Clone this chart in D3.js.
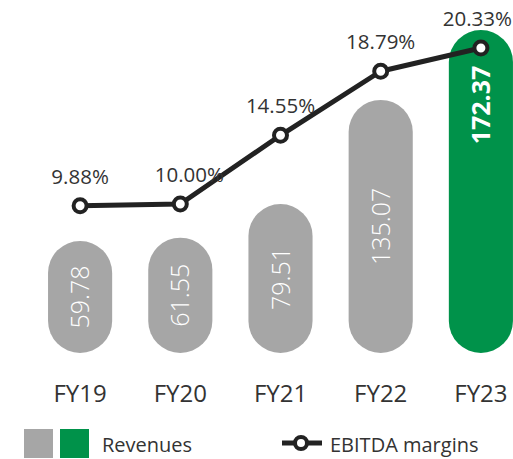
<!DOCTYPE html>
<html><head><meta charset="utf-8">
<script src="https://cdn.jsdelivr.net/npm/d3@7/dist/d3.min.js"></script>
<style>
html,body{margin:0;padding:0;background:#fff;}
svg{display:block;font-family:"Open Sans","Noto Sans",sans-serif;}
</style></head><body>
<svg id="chart" width="513" height="459"></svg>
<script>
const categories = ["FY19","FY20","FY21","FY22","FY23"];
const revenues = [59.78, 61.55, 79.51, 135.07, 172.37];
const ebitdaMargins = [9.88, 10.00, 14.55, 18.79, 20.33];
const marginLabels = ["9.88%","10.00%","14.55%","18.79%","20.33%"];
const revenueLabels = ["59.78","61.55","79.51","135.07","172.37"];
const legendLabels = ["Revenues","EBITDA margins"];

const GRAY = "#a6a6a6", GREEN = "#00924a", DARK = "#222", TEXT = "#333";
const svg = d3.select("#chart");

const x = d3.scaleBand().domain(categories).range([30, 531]).paddingInner(0.36).paddingOuter(0.18);
const yBar = d3.scaleLinear().domain([0, d3.max(revenues)]).range([353, 30]);
const yLine = d3.scaleLinear().domain([0, d3.max(ebitdaMargins)]).range([355, 48]);
const cx = d => x(d) + x.bandwidth() / 2;

const data = categories.map((c, i) => ({c, i, rev: revenues[i], m: ebitdaMargins[i]}));
const last = categories.length - 1;

// bars (pill shapes)
svg.append("g").selectAll("rect").data(data).join("rect")
  .attr("x", d => x(d.c))
  .attr("y", d => yBar(d.rev))
  .attr("width", x.bandwidth())
  .attr("height", d => yBar(0) - yBar(d.rev))
  .attr("rx", x.bandwidth() / 2)
  .attr("fill", d => d.i === last ? GREEN : GRAY);

// bar labels
svg.append("g").selectAll("text").data(data).join("text")
  .attr("transform", d => {
    const yy = d.i === last ? yBar(d.rev) + 75 : (yBar(d.rev) + yBar(0)) / 2;
    return `translate(${cx(d.c) + 9},${yy}) rotate(-90)`;
  })
  .attr("text-anchor", "middle")
  .attr("fill", "#fff")
  .attr("font-size", 25)
  .attr("font-weight", d => d.i === last ? 700 : 300)
  .text(d => revenueLabels[d.i]);

// axis labels
const xAxis = d3.axisBottom(x).tickSize(0).tickPadding(0);
const ax = svg.append("g").attr("transform", "translate(0,380)").call(xAxis);
ax.select(".domain").remove();
ax.selectAll("text").attr("font-size", 24).attr("fill", TEXT)
  .attr("font-family", "'Open Sans','Noto Sans',sans-serif").attr("dy", "0.92em");

// line
const line = d3.line().x(d => cx(d.c)).y(d => yLine(d.m));
svg.append("path").datum(data).attr("d", line)
  .attr("fill", "none").attr("stroke", DARK).attr("stroke-width", 5).attr("stroke-linejoin", "round");
svg.append("g").selectAll("circle").data(data).join("circle")
  .attr("cx", d => cx(d.c)).attr("cy", d => yLine(d.m)).attr("r", 6.5)
  .attr("fill", "#fff").attr("stroke", DARK).attr("stroke-width", 4);

// margin labels
const ml = svg.append("g").selectAll("text").data(data).join("text")
  .attr("x", d => cx(d.c) + (d.i === 1 ? 9 : 0))
  .attr("y", d => yLine(d.m) - 22)
  .attr("text-anchor", "middle")
  .attr("font-size", 20.5).attr("fill", TEXT)
  .text(d => marginLabels[d.i]);
// keep labels inside the canvas
ml.each(function() {
  const b = this.getBBox();
  const over = b.x + b.width - 512;
  if (over > 0) d3.select(this).attr("x", +d3.select(this).attr("x") - over);
});

// legend
const lg = svg.append("g");
lg.append("rect").attr("x", 24).attr("y", 429).attr("width", 29).attr("height", 29).attr("fill", GRAY);
lg.append("rect").attr("x", 60).attr("y", 429).attr("width", 29).attr("height", 29).attr("fill", GREEN);
lg.append("text").attr("x", 102).attr("y", 452).attr("font-size", 20).attr("fill", TEXT).text(legendLabels[0]);
lg.append("line").attr("x1", 282).attr("x2", 322).attr("y1", 443).attr("y2", 443).attr("stroke", DARK).attr("stroke-width", 5);
lg.append("circle").attr("cx", 301).attr("cy", 443).attr("r", 6).attr("fill", "#fff").attr("stroke", DARK).attr("stroke-width", 4);
lg.append("text").attr("x", 330).attr("y", 452).attr("font-size", 20).attr("fill", TEXT).text(legendLabels[1]);
</script>
</body></html>
